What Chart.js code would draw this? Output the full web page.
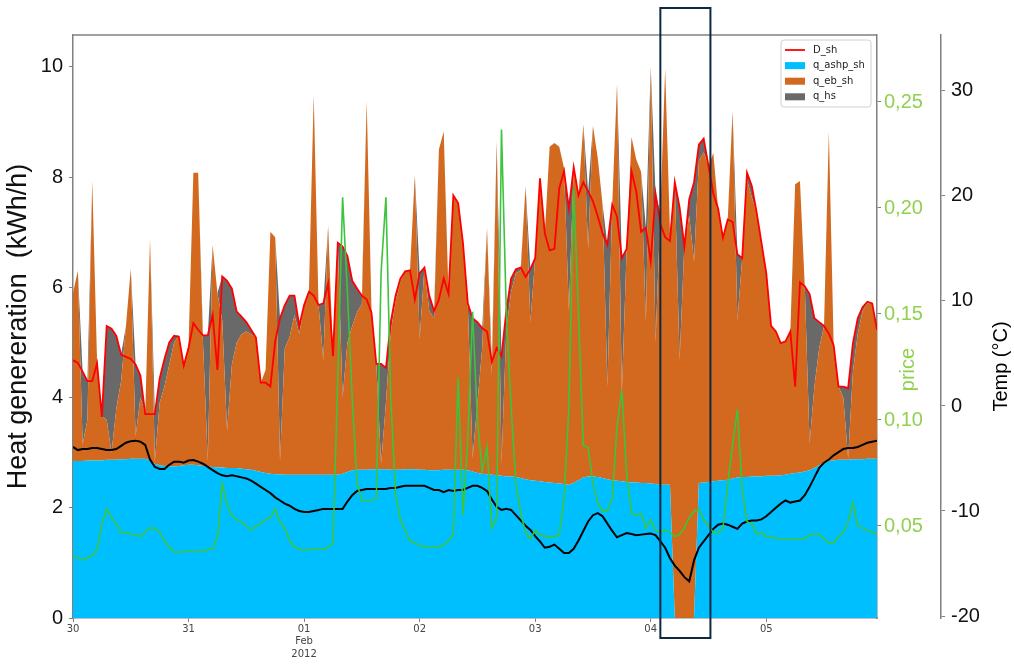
<!DOCTYPE html>
<html>
<head>
<meta charset="utf-8">
<script src="https://cdn.jsdelivr.net/npm/chart.js@4.4.1/dist/chart.umd.min.js"></script>
<style>
  body { margin: 0; background: #fff; }
  canvas { display: block; }
</style>
</head>
<body>
<canvas id="chart" width="1014" height="664"></canvas>
<script>
// hourly values, 30 Jan 2012 00:00 .. 5 Feb 2012 23:00
const dayTicks = [0, 24, 48, 72, 96, 120, 144];
const dayLabels = ["30", "31", ["01", "Feb", "2012"], "02", "03", "04", "05"];
const heatTicks = [0, 2, 4, 6, 8, 10];
const priceTicks = [0.05, 0.10, 0.15, 0.20, 0.25];
const tempTicks = [-20, -10, 0, 10, 20, 30];

const q_ashp_sh = [
  2.85, 2.85, 2.85, 2.86, 2.86, 2.86, 2.86, 2.87, 2.87, 2.87,
  2.88, 2.88, 2.89, 2.89, 2.89, 2.89, 2.86, 2.80, 2.77, 2.76,
  2.75, 2.75, 2.76, 2.77, 2.78, 2.78, 2.77, 2.76, 2.75, 2.74,
  2.73, 2.73, 2.72, 2.72, 2.72, 2.71, 2.70, 2.69, 2.67, 2.65,
  2.63, 2.62, 2.61, 2.61, 2.60, 2.60, 2.60, 2.60, 2.60, 2.60,
  2.60, 2.60, 2.60, 2.60, 2.60, 2.60, 2.62, 2.65, 2.68, 2.69,
  2.69, 2.69, 2.70, 2.70, 2.70, 2.70, 2.69, 2.69, 2.69, 2.70,
  2.70, 2.70, 2.69, 2.69, 2.68, 2.68, 2.68, 2.69, 2.69, 2.69,
  2.69, 2.69, 2.68, 2.66, 2.63, 2.62, 2.61, 2.60, 2.59, 2.58,
  2.57, 2.57, 2.56, 2.54, 2.52, 2.50, 2.49, 2.48, 2.47, 2.46,
  2.45, 2.44, 2.43, 2.42, 2.45, 2.50, 2.55, 2.57, 2.57, 2.56,
  2.54, 2.52, 2.50, 2.49, 2.48, 2.47, 2.46, 2.46, 2.45, 2.45,
  2.44, 2.43, 2.42, 2.42, 2.42, 0, 0, 0, 0, 0,
  2.45, 2.46, 2.47, 2.48, 2.49, 2.50, 2.51, 2.53, 2.55, 2.56,
  2.56, 2.57, 2.57, 2.57, 2.58, 2.58, 2.58, 2.59, 2.60, 2.62,
  2.63, 2.64, 2.66, 2.68, 2.72, 2.77, 2.82, 2.85, 2.86, 2.87,
  2.87, 2.87, 2.88, 2.88, 2.88, 2.89, 2.89, 2.89
];

const q_eb_sh = [
  3.05, 3.45, 0.30, 0.74, 5.08, 1.79, 0.79, 0.73, 0.13, 0.93,
  1.42, 2.42, 3.45, 0.41, 1.11, 0.81, 4.02, 0.05, 1.13, 1.44,
  1.85, 2.25, 2.37, 1.81, 2.17, 5.30, 5.31, 2.24, 0.10, 4.03,
  3.17, 2.67, 0.68, 1.88, 2.28, 2.44, 2.50, 2.46, 2.42, 1.62,
  1.87, 4.39, 4.30, 0.24, 2.30, 2.50, 2.90, 2.56, 3.08, 3.32,
  6.89, 3.08, 2.08, 4.52, 2.15, 4.21, 1.38, 2.35, 2.62, 2.86,
  3.01, 6.69, 2.90, 1.91, 0.10, 1.20, 2.51, 3.06, 3.41, 3.59,
  3.61, 5.34, 2.37, 3.67, 2.89, 2.76, 5.82, 6.14, 3.19, 4.98,
  4.84, 4.12, 3.03, 0.24, 1.27, 2.28, 4.47, 1.80, 6.07, 0.22,
  2.66, 3.35, 3.70, 3.76, 5.32, 2.87, 4.04, 5.50, 4.51, 6.09,
  6.17, 6.11, 5.73, 3.15, 5.73, 5.17, 6.41, 4.13, 6.36, 5.79,
  4.96, 1.68, 5.00, 7.20, 1.58, 4.23, 6.27, 5.86, 5.65, 2.92,
  7.56, 2.57, 4.94, 7.55, 4.58, 7.91, 4.68, 6.80, 7.30, 6.47,
  5.85, 5.99, 5.73, 5.96, 4.94, 4.40, 4.72, 6.68, 2.85, 3.97,
  5.39, 5.06, 4.79, 4.24, 3.68, 2.72, 2.62, 2.40, 2.42, 2.58,
  5.24, 5.29, 3.36, 0.49, 1.48, 2.13, 2.48, 5.98, 2.09, 1.33,
  1.13, 0.03, 1.59, 2.28, 2.69, 2.82, 2.82, 2.34
];

const D_sh = [
  4.68, 4.63, 4.47, 4.30, 4.30, 4.62, 3.65, 5.30, 5.25, 5.12,
  4.78, 4.74, 4.70, 4.60, 4.40, 3.70, 3.70, 3.70, 4.35, 4.70,
  5.00, 5.12, 5.10, 4.58, 4.90, 5.35, 5.23, 5.13, 5.13, 5.50,
  4.50, 6.20, 6.12, 5.98, 5.56, 5.47, 5.37, 5.23, 5.09, 4.27,
  4.27, 4.20, 5.02, 5.44, 5.68, 5.85, 5.85, 5.30, 5.68, 5.92,
  5.85, 5.68, 5.71, 6.07, 4.75, 6.81, 6.74, 6.57, 6.12, 5.98,
  5.85, 5.78, 5.54, 4.61, 4.61, 4.54, 5.37, 5.85, 6.16, 6.29,
  6.31, 5.78, 6.26, 6.36, 5.85, 5.57, 5.78, 6.16, 5.88, 7.67,
  7.53, 6.81, 5.71, 5.44, 5.37, 5.26, 5.20, 4.65, 4.90, 4.75,
  5.57, 6.16, 6.33, 6.36, 6.19, 6.33, 6.53, 7.98, 6.98, 6.67,
  6.70, 7.80, 8.11, 7.43, 8.18, 7.67, 7.91, 7.74, 7.56, 7.29,
  6.98, 6.77, 7.50, 7.29, 6.53, 6.70, 8.11, 7.74, 7.01, 7.08,
  6.47, 7.70, 7.15, 6.91, 6.84, 7.91, 7.45, 6.74, 7.60, 7.91,
  8.59, 8.70, 8.20, 7.70, 7.43, 6.90, 7.23, 7.19, 6.60, 6.53,
  8.08, 7.84, 7.36, 6.81, 6.26, 5.30, 5.20, 4.99, 5.02, 5.20,
  4.20, 6.09, 6.02, 5.88, 5.44, 5.37, 5.30, 5.16, 4.95, 4.20,
  4.20, 4.17, 4.99, 5.44, 5.64, 5.74, 5.71, 5.23
];

const price = [
  0.036, 0.035, 0.034, 0.035, 0.036, 0.039, 0.051, 0.058, 0.054, 0.051,
  0.047, 0.047, 0.046, 0.046, 0.045, 0.047, 0.049, 0.049, 0.047, 0.043,
  0.040, 0.038, 0.0375, 0.038, 0.038, 0.038, 0.038, 0.038, 0.039, 0.039,
  0.045, 0.070, 0.060, 0.055, 0.053, 0.052, 0.050, 0.048, 0.050, 0.051,
  0.053, 0.054, 0.058, 0.052, 0.049, 0.043, 0.040, 0.039, 0.0385, 0.039,
  0.039, 0.039, 0.039, 0.040, 0.042, 0.120, 0.205, 0.160, 0.110, 0.070,
  0.062, 0.062, 0.062, 0.063, 0.170, 0.205, 0.110, 0.065, 0.053, 0.048,
  0.043, 0.042, 0.041, 0.040, 0.040, 0.040, 0.040, 0.041, 0.043, 0.046,
  0.120, 0.055, 0.090, 0.151, 0.100, 0.076, 0.087, 0.049, 0.054, 0.237,
  0.151, 0.106, 0.070, 0.056, 0.047, 0.044, 0.048, 0.046, 0.045, 0.045,
  0.045, 0.046, 0.063, 0.106, 0.209, 0.150, 0.088, 0.087, 0.070, 0.061,
  0.057, 0.057, 0.063, 0.097, 0.114, 0.074, 0.056, 0.055, 0.056, 0.049,
  0.053, 0.048, 0.047, 0.048, 0.047, 0.045, 0.046, 0.049, 0.054, 0.057,
  0.058, 0.053, 0.050, 0.047, 0.047, 0.049, 0.070, 0.088, 0.105, 0.067,
  0.052, 0.051, 0.046, 0.047, 0.045, 0.045, 0.044, 0.044, 0.044, 0.044,
  0.044, 0.044, 0.044, 0.046, 0.046, 0.046, 0.044, 0.042, 0.042, 0.045,
  0.047, 0.052, 0.061, 0.050, 0.049, 0.048, 0.047, 0.046
];

const temp = [
  -3.9, -4.2, -4.1, -4.1, -4.0, -4.0, -4.1, -4.2, -4.2, -4.1,
  -3.8, -3.5, -3.35, -3.3, -3.4, -3.7, -5.1, -5.8, -6.0, -6.0,
  -5.6, -5.3, -5.3, -5.4, -5.2, -5.15, -5.3, -5.5, -5.8, -6.1,
  -6.4, -6.6, -6.7, -6.6, -6.7, -6.8, -6.9, -7.1, -7.4, -7.7,
  -8.0, -8.3, -8.7, -9.0, -9.3, -9.5, -9.8, -10.0, -10.1, -10.1,
  -10.0, -9.9, -9.8, -9.8, -9.8, -9.8, -9.8, -9.1, -8.5, -8.1,
  -8.0, -7.9, -7.9, -7.9, -7.9, -7.9, -7.8, -7.8, -7.7, -7.6,
  -7.6, -7.6, -7.6, -7.6, -7.8, -8.0, -8.0, -8.2, -8.0, -8.1,
  -8.0, -8.0, -7.8, -7.6, -7.6, -7.8, -8.1, -8.9, -9.6, -9.9,
  -9.8, -9.9, -10.4, -10.9, -11.4, -11.8, -12.4, -12.9, -13.5, -13.4,
  -13.2, -13.6, -14.0, -14.0, -13.6, -12.8, -11.9, -11.0, -10.4, -10.2,
  -10.5, -11.2, -11.9, -12.5, -12.3, -12.1, -12.2, -12.3, -12.25, -12.2,
  -12.15, -12.3, -12.9, -13.5, -14.5, -15.2, -15.7, -16.3, -16.7, -14.7,
  -13.5, -12.9, -12.3, -11.7, -11.3, -11.2, -11.3, -11.5, -11.7, -11.2,
  -11.0, -10.9, -10.9, -10.8, -10.5, -10.1, -9.7, -9.3, -9.0, -9.2,
  -9.1, -9.0, -8.5, -7.7, -6.8, -5.9, -5.4, -5.1, -4.7, -4.4,
  -4.1, -4.0, -4.0, -3.9, -3.7, -3.5, -3.4, -3.3
];

// storage discharge covers what the heat pump and boiler leave of the demand
const q_hs = D_sh.map((d, i) => Math.max(0, +(d - q_ashp_sh[i] - q_eb_sh[i]).toFixed(2)));

// highlighted hours (04 Feb)
const boxFrom = 122;
const boxTo = 132.4;

const pts = (arr) => arr.map((v, i) => ({ x: i, y: v }));

const axisGray = "#808080";
const labelFont = { family: "'Liberation Sans', Arial, sans-serif", size: 20 };

const extras = {
  id: "extras",
  afterDraw(chart) {
    const { ctx, chartArea: a, scales } = chart;
    ctx.save();

    // top spine
    ctx.strokeStyle = axisGray;
    ctx.lineWidth = 1.5;
    ctx.beginPath();
    ctx.moveTo(a.left, a.top);
    ctx.lineTo(a.right, a.top);
    ctx.stroke();

    // highlight box
    const x0 = scales.x.getPixelForValue(boxFrom);
    const x1 = scales.x.getPixelForValue(boxTo);
    ctx.strokeStyle = "#0e2841";
    ctx.lineWidth = 2;
    ctx.strokeRect(x0, a.top - 27, x1 - x0, a.bottom - a.top + 47);

    // legend
    const ds = chart.data.datasets;
    const items = [ds[3], ds[0], ds[1], ds[2]];
    const w = 90, h = 67;
    const lx = a.right - 6 - w, ly = a.top + 5;
    ctx.fillStyle = "rgba(255,255,255,0.85)";
    ctx.strokeStyle = "#d0d0d0";
    ctx.lineWidth = 1;
    ctx.beginPath();
    ctx.roundRect(lx, ly, w, h, 3);
    ctx.fill();
    ctx.stroke();
    ctx.font = "10px 'DejaVu Sans', sans-serif";
    ctx.textBaseline = "middle";
    ctx.textAlign = "left";
    items.forEach((d, i) => {
      const cy = ly + 10 + i * 15.6;
      if (d.fill === false) {
        ctx.strokeStyle = d.borderColor;
        ctx.lineWidth = 1.8;
        ctx.beginPath();
        ctx.moveTo(lx + 4, cy);
        ctx.lineTo(lx + 24, cy);
        ctx.stroke();
      } else {
        ctx.fillStyle = d.backgroundColor;
        ctx.fillRect(lx + 4, cy - 3.5, 20, 7);
      }
      ctx.fillStyle = "#222";
      ctx.fillText(d.label, lx + 32, cy);
    });

    // right axis titles, reading upwards
    ctx.font = "20px 'Liberation Sans', Arial, sans-serif";
    ctx.textAlign = "center";
    ctx.textBaseline = "middle";
    const midY = (a.top + a.bottom) / 2;
    ctx.save();
    ctx.translate(scales.yP.left + 31, midY + 43);
    ctx.rotate(-Math.PI / 2);
    ctx.fillStyle = "#92d050";
    ctx.fillText("price", 0, 0);
    ctx.restore();
    ctx.save();
    ctx.translate(scales.yT.left + 60, midY + 40);
    ctx.rotate(-Math.PI / 2);
    ctx.fillStyle = "#000";
    ctx.fillText("Temp (\u00b0C)", 0, 0);
    ctx.restore();

    ctx.restore();
  }
};

const ctx = document.getElementById("chart").getContext("2d");
const chart = new Chart(ctx, {
  type: "line",
  data: {
    datasets: [
      {
        label: "q_ashp_sh",
        data: pts(q_ashp_sh),
        stack: "gen",
        fill: "origin",
        backgroundColor: "#00bfff",
        borderColor: "rgba(0,0,0,0)",
        borderWidth: 0,
        order: 3,
      },
      {
        label: "q_eb_sh",
        data: pts(q_eb_sh),
        stack: "gen",
        fill: "-1",
        backgroundColor: "#d2691e",
        borderColor: "rgba(0,0,0,0)",
        borderWidth: 0,
        order: 3,
      },
      {
        label: "q_hs",
        data: pts(q_hs),
        stack: "gen",
        fill: "-1",
        backgroundColor: "#696969",
        borderColor: "rgba(0,0,0,0)",
        borderWidth: 0,
        order: 3,
      },
      {
        label: "D_sh",
        data: pts(D_sh),
        stack: "demand",
        fill: false,
        borderColor: "#ff0000",
        borderWidth: 1.8,
        order: 2,
      },
      {
        label: "Temp",
        data: pts(temp),
        yAxisID: "yT",
        fill: false,
        borderColor: "#000000",
        borderWidth: 2,
        order: 1,
      },
      {
        label: "price",
        data: pts(price),
        yAxisID: "yP",
        fill: false,
        borderColor: "#3cc43c",
        borderWidth: 1.6,
        order: 0,
      },
    ],
  },
  options: {
    responsive: false,
    animation: false,
    devicePixelRatio: 1,
    events: [],
    layout: { padding: { top: 35, left: 0, right: 0, bottom: 0 } },
    elements: {
      point: { radius: 0 },
      line: { tension: 0 },
    },
    plugins: {
      legend: { display: false },
      tooltip: { enabled: false },
    },
    scales: {
      x: {
        type: "linear",
        min: 0,
        max: 167,
        afterBuildTicks: (s) => { s.ticks = dayTicks.map((v) => ({ value: v })); },
        afterFit: (s) => { s.height = 46; },
        grid: { drawOnChartArea: false, tickLength: 4, color: axisGray },
        border: { color: axisGray, width: 1.5 },
        ticks: {
          autoSkip: false,
          maxRotation: 0,
          padding: 1,
          color: "#444",
          font: { family: "'DejaVu Sans', sans-serif", size: 10, lineHeight: 1.25 },
          callback: (v, i) => dayLabels[i],
        },
      },
      y: {
        position: "left",
        stacked: true,
        min: 0,
        max: 10.58,
        afterBuildTicks: (s) => { s.ticks = heatTicks.map((v) => ({ value: v })); },
        afterFit: (s) => { s.width = 73; },
        grid: { drawOnChartArea: false, tickLength: 4, color: axisGray },
        border: { color: axisGray, width: 1.5 },
        ticks: { color: "#111", font: labelFont, padding: 6, callback: (v) => String(v) },
        title: {
          display: true,
          text: "Heat genereration  (kWh/h)",
          color: "#111",
          font: { family: "'Liberation Sans', Arial, sans-serif", size: 27 },
          padding: { top: 2, bottom: 0 },
        },
      },
      yP: {
        position: "right",
        min: 0.0066,
        max: 0.2816,
        afterBuildTicks: (s) => { s.ticks = priceTicks.map((v) => ({ value: v })); },
        afterFit: (s) => { s.width = 64; },
        grid: { drawOnChartArea: false, tickLength: 4, color: axisGray },
        border: { color: axisGray, width: 1.5 },
        ticks: {
          color: "#92d050",
          font: labelFont,
          padding: 3,
          callback: (v) => v.toFixed(2).replace(".", ","),
        },
      },
      yT: {
        position: "right",
        min: -20.19,
        max: 35.33,
        afterBuildTicks: (s) => { s.ticks = tempTicks.map((v) => ({ value: v })); },
        afterFit: (s) => { s.width = 73; },
        grid: { drawOnChartArea: false, tickLength: 4, color: axisGray },
        border: { color: axisGray, width: 1.5 },
        ticks: { color: "#111", font: labelFont, padding: 6, callback: (v) => String(v) },
      },
    },
  },
  plugins: [extras],
});
</script>
</body>
</html>
